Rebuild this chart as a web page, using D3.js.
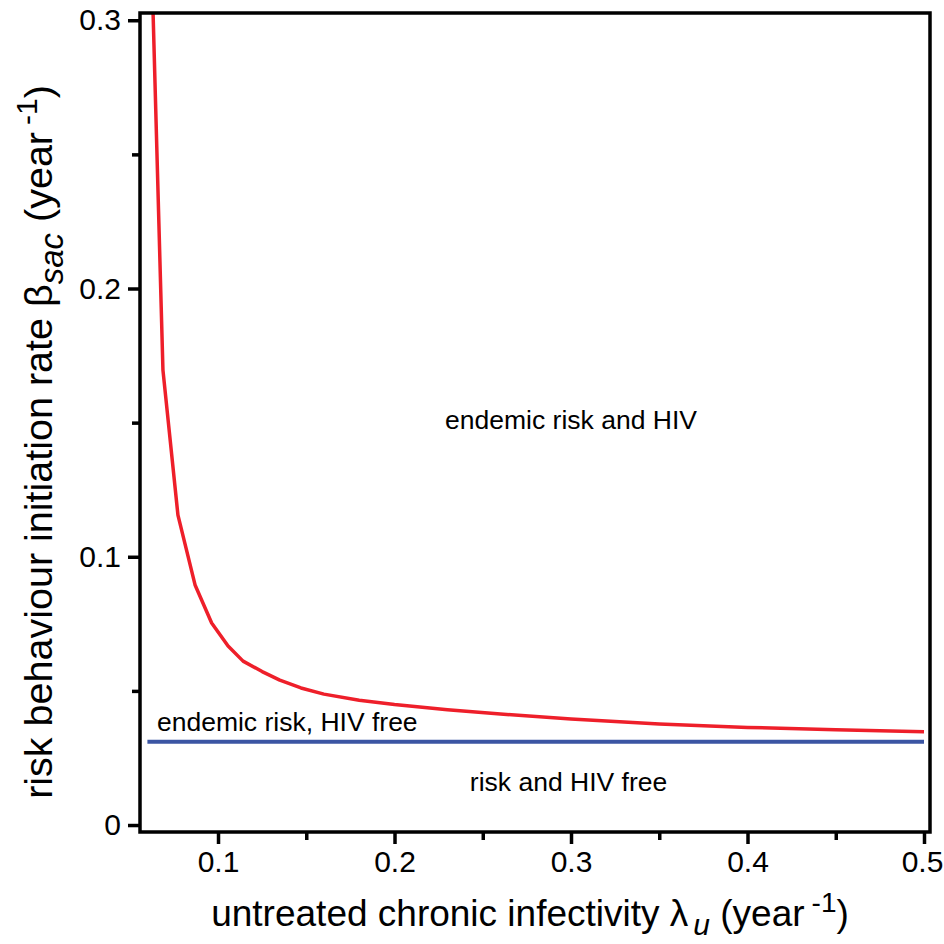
<!DOCTYPE html>
<html>
<head>
<meta charset="utf-8">
<script src="https://cdn.jsdelivr.net/npm/d3@7"></script>
<style>
  html, body { margin: 0; padding: 0; background: #fff; }
  text { font-family: "Liberation Sans", Arial, sans-serif; fill: #000; }
</style>
</head>
<body>
<script>
// DATA ––––––––––––––––––––––––––––––––––––––––––––––––––––––––––––––––

  // untreated chronic infectivity (x) and threshold risk initiation rate (y), red curve
  var lambdaU = [0.0629, 0.0688, 0.0773, 0.0870, 0.0964, 0.1057, 0.1142, 0.125, 0.135,
                 0.147, 0.16, 0.18, 0.20, 0.23, 0.26, 0.30, 0.35, 0.40, 0.45, 0.50];
  var betaSac = [0.310, 0.1696, 0.1155, 0.0895, 0.0753, 0.0667, 0.0611, 0.0572, 0.0540,
                 0.0511, 0.0488, 0.0465, 0.0449, 0.0430, 0.0414, 0.0395, 0.0377, 0.0364, 0.0355, 0.0348];

  // blue line: risk-free threshold (flat)
  var lambdaFlat = [0.06, 0.50];
  var betaFlat = [0.031, 0.031];

  var xTicks = [0.1, 0.2, 0.3, 0.4, 0.5],
      xMinorTicks = [0.15, 0.25, 0.35, 0.45],
      yTicks = [0, 0.1, 0.2, 0.3],
      yMinorTicks = [0.05, 0.15, 0.25];

  var xTickLabels = ["0.1", "0.2", "0.3", "0.4", "0.5"],
      yTickLabels = ["0", "0.1", "0.2", "0.3"];

  var regionLabels = ["endemic risk and HIV", "endemic risk, HIV free", "risk and HIV free"];

// CHART ––––––––––––––––––––––––––––––––––––––––––––––––––––––––––––––

  var drawChart = function() {
    let W = 944, H = 944,
        left = 140, right = 930, top = 13, bottom = 832;

    let svg = d3.select("body").append("svg")
        .attr("width", W)
        .attr("height", H);

    let x = d3.scaleLinear().domain([0.0558, 0.5034]).range([left, right]);
    let y = d3.scaleLinear().domain([-0.0026, 0.3027]).range([bottom, top]);

    svg.append("defs").append("clipPath").attr("id", "plotclip")
      .append("rect")
        .attr("x", left).attr("y", top)
        .attr("width", right - left).attr("height", bottom - top);

    // axes: major + minor ticks, labels handled by tickFormat
    let xAxis = d3.axisBottom(x).tickValues(xTicks).tickSize(12).tickSizeOuter(0).tickPadding(7)
        .tickFormat(function(d, i) { return xTickLabels[i]; });
    let xMinor = d3.axisBottom(x).tickValues(xMinorTicks).tickSize(8).tickSizeOuter(0).tickFormat("");
    let yAxis = d3.axisLeft(y).tickValues(yTicks).tickSize(12).tickSizeOuter(0).tickPadding(7)
        .tickFormat(function(d, i) { return yTickLabels[i]; });
    let yMinor = d3.axisLeft(y).tickValues(yMinorTicks).tickSize(8).tickSizeOuter(0).tickFormat("");

    [[xAxis, "translate(0," + bottom + ")"], [xMinor, "translate(0," + bottom + ")"],
     [yAxis, "translate(" + left + ",0)"], [yMinor, "translate(" + left + ",0)"]].forEach(function(a) {
      let g = svg.append("g").attr("transform", a[1]).call(a[0]);
      g.select(".domain").remove();
      g.selectAll(".tick line").attr("stroke", "#000").attr("stroke-width", 3.5);
      g.selectAll(".tick text")
        .style("font-family", "'Liberation Sans', Arial, sans-serif")
        .style("font-size", "30px");
    });
    // last x label sits against the right edge, nudge it in a bit
    svg.selectAll(".tick text").filter(function(d) { return d === 0.5; }).attr("dx", -2);

    // curves
    let line = d3.line()
      .x(function(d) { return x(d[0]); })
      .y(function(d) { return y(d[1]); });

    svg.append("path")
      .datum(d3.zip(lambdaFlat, betaFlat))
      .attr("fill", "none")
      .attr("stroke", "#3b55a3")
      .attr("stroke-width", 4)
      .attr("d", line);

    svg.append("path")
      .datum(d3.zip(lambdaU, betaSac))
      .attr("clip-path", "url(#plotclip)")
      .attr("fill", "none")
      .attr("stroke", "#ee1f2a")
      .attr("stroke-width", 3.5)
      .attr("stroke-linejoin", "round")
      .attr("d", line);

    // frame
    svg.append("rect")
      .attr("x", left).attr("y", top)
      .attr("width", right - left).attr("height", bottom - top)
      .attr("fill", "none")
      .attr("stroke", "#000")
      .attr("stroke-width", 3.5);

    // region labels
    let lab = svg.append("g").style("font-size", "26.5px");
    lab.append("text").attr("x", x(0.3)).attr("y", y(0.1476))
      .attr("text-anchor", "middle").text(regionLabels[0]);
    lab.append("text").attr("x", x(0.0654)).attr("y", y(0.035))
      .attr("text-anchor", "start").text(regionLabels[1]);
    lab.append("text").attr("x", x(0.2986)).attr("y", y(0.0127))
      .attr("text-anchor", "middle").text(regionLabels[2]);

    // x axis title
    let xt = svg.append("text")
      .attr("x", 530).attr("y", 926)
      .attr("text-anchor", "middle")
      .style("font-size", "37px");
    xt.append("tspan").text("untreated chronic infectivity \u03bb");
    xt.append("tspan").attr("dx", 5).attr("dy", 9).style("font-style", "italic").style("font-size", "30px").text("u");
    xt.append("tspan").attr("dy", -9).text(" (year");
    xt.append("tspan").attr("dx", 7).attr("dy", -14).style("font-size", "28px").text("-1");
    xt.append("tspan").attr("dy", 14).text(")");

    // y axis title
    let yt = svg.append("text")
      .attr("transform", "translate(52,442) rotate(-90)")
      .attr("text-anchor", "middle")
      .style("font-size", "39.5px");
    yt.append("tspan").text("risk behaviour initiation rate \u03b2");
    yt.append("tspan").attr("dy", 11).style("font-style", "italic").style("font-size", "33px").text("sac");
    yt.append("tspan").attr("dy", -11).text(" (year");
    yt.append("tspan").attr("dx", 7).attr("dy", -15).style("font-size", "30px").text("-1");
    yt.append("tspan").attr("dy", 15).text(")");
  };

// RUN ––––––––––––––––––––––––––––––––––––––––––––––––––––––––––––––––

drawChart();
</script>
</body>
</html>
